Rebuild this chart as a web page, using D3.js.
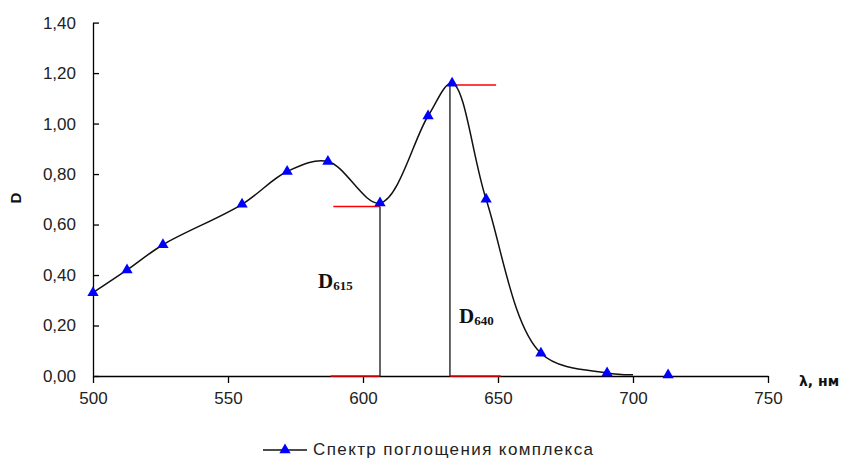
<!DOCTYPE html>
<html>
<head>
<meta charset="utf-8">
<script src="https://cdn.jsdelivr.net/npm/d3@7"></script>
<style>
  body { margin: 0; background: #fff; }
  svg { display: block; }
  .tick text { font-family: "Liberation Sans", Arial, sans-serif; font-size: 17px; fill: #222; }
  .domain, .tick line { stroke: #000; stroke-width: 1.3; }
</style>
</head>
<body>
<div id="chart"></div>
<script>
// marker points of the spectrum
var wavelength = [500, 512.6, 525.9, 555.2, 571.9, 587.0, 606.3, 624.1, 633.0, 645.6, 665.9, 690.4, 713.0];
var absorbance = [0.33, 0.42, 0.52, 0.68, 0.81, 0.85, 0.685, 1.03, 1.16, 0.70, 0.09, 0.012, 0.004];
// the smoothed line stops at 700 nm
var lineEndX = 700;
var lineEndY = 0.005;

// reference lines for D615 / D640
var refX = [606.3, 632.2];
var refY = [0.671, 1.153];
var redStart = [589.0, 632.2];   // horizontal red marks at the level
var redEnd = [606.3, 649.3];
var axisRedStart = [588.0, 632.2]; // red marks along the x axis
var axisRedEnd = [606.3, 651.0];
var refLabels = ["615", "640"];

var xTicks = [500, 550, 600, 650, 700, 750];
var yTicks = [0, 0.2, 0.4, 0.6, 0.8, 1.0, 1.2, 1.4];

// dimensions
var svgWidth = 845;
var svgHeight = 461;

var svg = d3.select("#chart").append("svg")
  .attr("width", svgWidth)
  .attr("height", svgHeight);

var xScale = d3.scaleLinear().domain([500, 750]).range([93, 768]);
var yScale = d3.scaleLinear().domain([0, 1.4]).range([376, 22.6]);

var fmt = d3.format(".2f");

// axes
svg.append("g")
  .attr("transform", `translate(0, ${yScale(0)})`)
  .call(d3.axisBottom(xScale).tickValues(xTicks).tickSizeInner(7).tickSizeOuter(0).tickPadding(9));

svg.append("g")
  .attr("transform", `translate(${xScale(500)}, 0)`)
  .call(d3.axisLeft(yScale).tickValues(yTicks).tickSizeInner(-6).tickSizeOuter(0).tickPadding(17)
    .tickFormat(d => fmt(d).replace(".", ",")));

// red marks
for (var i = 0; i < refX.length; i++) {
  svg.append("line")
    .attr("x1", xScale(redStart[i])).attr("x2", xScale(redEnd[i]))
    .attr("y1", yScale(refY[i])).attr("y2", yScale(refY[i]))
    .attr("stroke", "#ff0000").attr("stroke-width", 1.5);
  svg.append("line")
    .attr("x1", xScale(axisRedStart[i])).attr("x2", xScale(axisRedEnd[i]))
    .attr("y1", yScale(0)).attr("y2", yScale(0))
    .attr("stroke", "#ff0000").attr("stroke-width", 1.5);
  // vertical black line
  svg.append("line")
    .attr("x1", xScale(refX[i])).attr("x2", xScale(refX[i]))
    .attr("y1", yScale(refY[i])).attr("y2", yScale(0))
    .attr("stroke", "#333").attr("stroke-width", 1.5);
}

// smoothed spectrum line
var linePts = wavelength.slice(0, 12).map((d, i) => [d, absorbance[i]]);
linePts.push([lineEndX, lineEndY]);

var line = d3.line()
  .x(d => xScale(d[0]))
  .y(d => yScale(d[1]))
  .curve(d3.curveCatmullRom.alpha(0.5));

svg.append("path")
  .datum(linePts)
  .attr("d", line)
  .attr("fill", "none")
  .attr("stroke", "#111")
  .attr("stroke-width", 1.5);

// triangle markers
var tri = d3.symbol().type(d3.symbolTriangle).size(55);
svg.selectAll(".marker")
  .data(wavelength)
  .enter()
  .append("path")
  .attr("class", "marker")
  .attr("d", tri)
  .attr("transform", (d, i) => `translate(${xScale(d)}, ${yScale(absorbance[i])})`)
  .attr("fill", "#0000ff");

// D labels
var labelPos = [[318, 288], [459, 323]];
labelPos.forEach(function(p, i) {
  var t = svg.append("text")
    .attr("x", p[0]).attr("y", p[1])
    .attr("font-family", "Liberation Serif, Times New Roman, serif")
    .attr("font-weight", "bold")
    .attr("font-size", 21)
    .attr("fill", "#111");
  t.append("tspan").text("D");
  t.append("tspan").attr("font-size", 13).attr("dy", 2).text(refLabels[i]);
});

// axis titles
svg.append("text")
  .attr("x", 799).attr("y", 386)
  .attr("font-family", "DejaVu Sans, sans-serif")
  .attr("font-weight", "bold")
  .attr("font-size", 14)
  .attr("fill", "#111")
  .text("λ, нм");

svg.append("text")
  .attr("transform", "translate(21, 198) rotate(-90)")
  .attr("text-anchor", "middle")
  .attr("font-family", "Liberation Sans, Arial, sans-serif")
  .attr("font-weight", "bold")
  .attr("font-size", 15)
  .attr("fill", "#111")
  .text("D");

// legend
svg.append("line")
  .attr("x1", 263).attr("x2", 307)
  .attr("y1", 450).attr("y2", 450)
  .attr("stroke", "#111").attr("stroke-width", 1.5);
svg.append("path")
  .attr("d", tri)
  .attr("transform", "translate(285, 450)")
  .attr("fill", "#0000ff");
svg.append("text")
  .attr("x", 313).attr("y", 455)
  .attr("font-family", "Liberation Sans, Arial, sans-serif")
  .attr("font-size", 17)
  .attr("textLength", 280)
  .attr("lengthAdjust", "spacing")
  .attr("fill", "#222")
  .text("Спектр поглощения комплекса");
</script>
</body>
</html>
